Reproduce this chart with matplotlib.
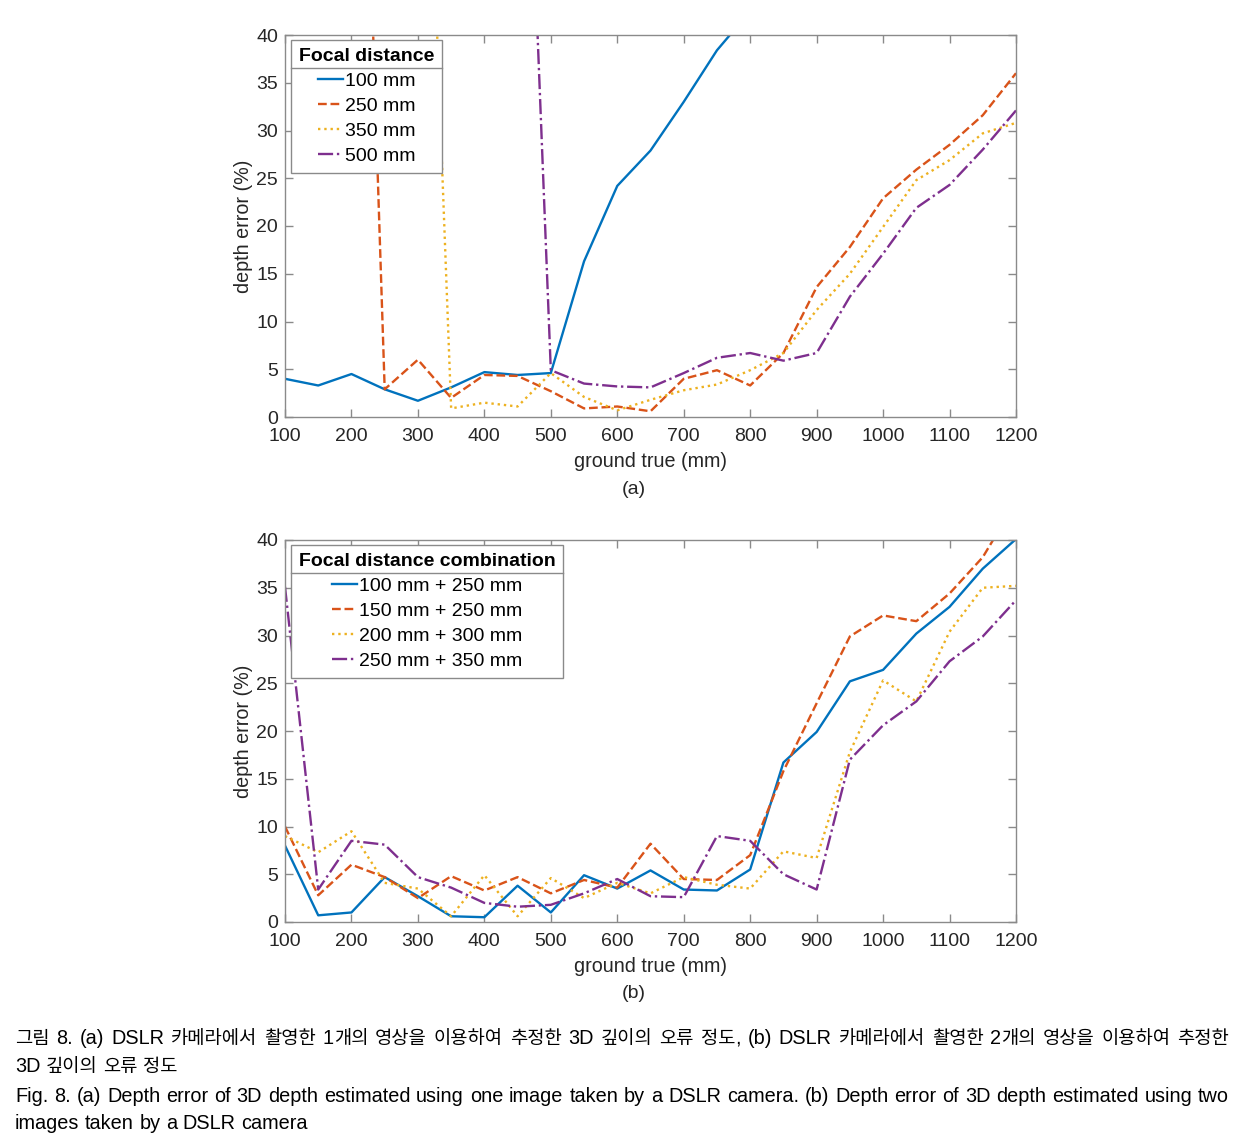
import re
import numpy as np
import matplotlib
matplotlib.use('Agg')
import matplotlib.pyplot as plt
from matplotlib.lines import Line2D

plt.rcParams['font.family'] = ['Liberation Sans', 'Noto Sans CJK KR', 'DejaVu Sans']

# ground truth distances (mm)
x = np.arange(100, 1201, 50)

# (a) one image, per focal distance
f100 = [4.0, 3.3, 4.5, 2.9, 1.7, 3.1, 4.7, 4.4, 4.6, 16.3, 24.2, 27.9, 33.0, 38.4,
        42.5, 47.0, 51.0, 55.0, 59.0, 63.0, 67.0, 71.0, 75.0]
f250 = [130, 120, 110, 2.9, 6.0, 2.0, 4.4, 4.3, 2.7, 0.9, 1.1, 0.6, 4.0, 4.9,
        3.3, 6.7, 13.6, 17.8, 22.9, 25.9, 28.5, 31.6, 36.0]
f350 = [120, 110, 105, 100, 94, 0.9, 1.5, 1.1, 4.6, 2.1, 0.7, 1.8, 2.8, 3.4,
        4.9, 6.7, 11.2, 15.0, 19.9, 24.8, 26.9, 29.7, 30.8]
f500 = [130, 125, 120, 115, 110, 105, 100, 93, 4.9, 3.5, 3.2, 3.1, 4.6, 6.2,
        6.7, 5.9, 6.7, 12.6, 17.1, 21.9, 24.3, 28.0, 32.1]
labels_a = ['100 mm', '250 mm', '350 mm', '500 mm']

# (b) two images, per focal distance combination
c100_250 = [8.0, 0.7, 1.0, 4.7, 2.7, 0.6, 0.5, 3.8, 1.0, 4.9, 3.5, 5.4, 3.4, 3.3,
            5.5, 16.7, 19.9, 25.2, 26.4, 30.2, 33.0, 37.0, 40.1]
c150_250 = [10.0, 2.8, 6.0, 4.7, 2.5, 4.8, 3.3, 4.7, 3.0, 4.4, 3.6, 8.2, 4.5, 4.4,
            7.0, 15.8, 22.9, 29.9, 32.1, 31.5, 34.4, 38.2, 44.0]
c200_300 = [9.0, 7.3, 9.5, 4.1, 3.5, 0.6, 4.9, 0.6, 4.6, 2.5, 4.1, 3.0, 4.7, 3.9,
            3.5, 7.4, 6.7, 17.8, 25.3, 23.1, 30.4, 35.0, 35.2]
c250_350 = [35.1, 3.4, 8.5, 8.1, 4.7, 3.6, 2.0, 1.6, 1.8, 3.0, 4.5, 2.7, 2.6, 9.0,
            8.5, 5.0, 3.4, 17.0, 20.6, 23.1, 27.3, 29.9, 33.7]
labels_b = ['100 mm + 250 mm', '150 mm + 250 mm', '200 mm + 300 mm', '250 mm + 350 mm']

colors = ['#0072BD', '#D95319', '#EDB120', '#7E2F8E']
styles = ['-', '--', ':', '-.']
gray = '#8a8a8a'
txt = '#262626'

W, H = 1246, 1145
fig = plt.figure(figsize=(W / 100, H / 100), dpi=100)
ax1 = fig.add_axes([285 / W, 1 - 417 / H, 731 / W, 382 / H])
ax2 = fig.add_axes([285 / W, 1 - 922 / H, 731 / W, 382 / H])


def style_axes(ax):
    ax.set_xlim(100, 1200)
    ax.set_ylim(0, 40)
    ax.set_xticks(np.arange(100, 1201, 100))
    ax.set_yticks(np.arange(0, 41, 5))
    ax.tick_params(direction='in', length=6, width=1, color=gray, labelcolor=txt,
                   labelsize=14, top=True, right=True)
    ax.tick_params(axis='x', pad=8)
    ax.tick_params(axis='y', pad=5)
    for s in ax.spines.values():
        s.set_color(gray)
        s.set_linewidth(1)
    ax.set_xlabel('ground true (mm)', fontsize=14.2, color=txt, labelpad=5)
    ax.set_ylabel('depth error (%)', fontsize=14.2, color=txt, labelpad=2)


for ax, series, labels, title in [
        (ax1, [f100, f250, f350, f500], labels_a, 'Focal distance'),
        (ax2, [c100_250, c150_250, c200_300, c250_350], labels_b, 'Focal distance combination')]:
    for ys, c, ls, lab in zip(series, colors, styles, labels):
        ax.plot(x, ys, color=c, linestyle=ls, linewidth=1.7, label=lab)
    style_axes(ax)
    leg = ax.legend(title=title, loc='upper left', bbox_to_anchor=(6 / 731, 1 - 5 / 382),
                    borderaxespad=0, fancybox=False, edgecolor=gray, framealpha=1,
                    handlelength=1.3, handletextpad=0.1, labelspacing=0.38,
                    borderpad=0.4, fontsize=14, alignment='center',
                    title_fontproperties={'weight': 'bold', 'size': 14})
    leg.get_frame().set_linewidth(1)
    ax._leg = leg

fig.text(634 / W, 1 - 489 / H, '(a)', fontsize=14, color=txt, ha='center', va='center')
fig.text(634 / W, 1 - 993 / H, '(b)', fontsize=14, color=txt, ha='center', va='center')

fig.canvas.draw()
r = fig.canvas.get_renderer()

# line under legend titles
for ax in (ax1, ax2):
    fb = ax._leg.get_frame().get_window_extent(r)
    tb = ax._leg.get_title().get_window_extent(r)
    yl = tb.y0 - 3
    fig.add_artist(Line2D([fb.x0 / W, fb.x1 / W], [yl / H, yl / H],
                          transform=fig.transFigure, color=gray, linewidth=1))

# caption, justified like the paper
hangul = r'[\uac00-\ud7a3]+'


def caption_line(text, base_y, justify):
    words = text.split(' ')
    runs = []
    for w in words:
        parts = re.findall(hangul + r'|[^\uac00-\ud7a3]+', w)
        objs = []
        for p in parts:
            if re.match(hangul, p):
                t = fig.text(0, 1 - base_y / H, p, fontsize=13.5, family='Noto Sans CJK KR',
                             color='black', va='baseline', ha='left')
            else:
                t = fig.text(0, 1 - base_y / H, p, fontsize=14.3, family='Liberation Sans',
                             color='black', va='baseline', ha='left')
            objs.append(t)
        runs.append(objs)
    widths = [[o.get_window_extent(r).width for o in objs] for objs in runs]
    total = sum(sum(ws) for ws in widths)
    x0, x1 = 15, 1229
    gap = (x1 - x0 - total) / (len(words) - 1) if justify else 5.5
    pos = x0
    for objs, ws in zip(runs, widths):
        for o, wd in zip(objs, ws):
            o.set_x(pos / W)
            pos += wd
        pos += gap


caption_line('그림 8. (a) DSLR 카메라에서 촬영한 1개의 영상을 이용하여 추정한 3D 깊이의 오류 정도, '
             '(b) DSLR 카메라에서 촬영한 2개의 영상을 이용하여 추정한', 1044, True)
caption_line('3D 깊이의 오류 정도', 1072, False)
caption_line('Fig. 8. (a) Depth error of 3D depth estimated using one image taken by a DSLR '
             'camera. (b) Depth error of 3D depth estimated using two', 1102, True)
caption_line('images taken by a DSLR camera', 1129, False)

fig.savefig('out.png', dpi=100)
